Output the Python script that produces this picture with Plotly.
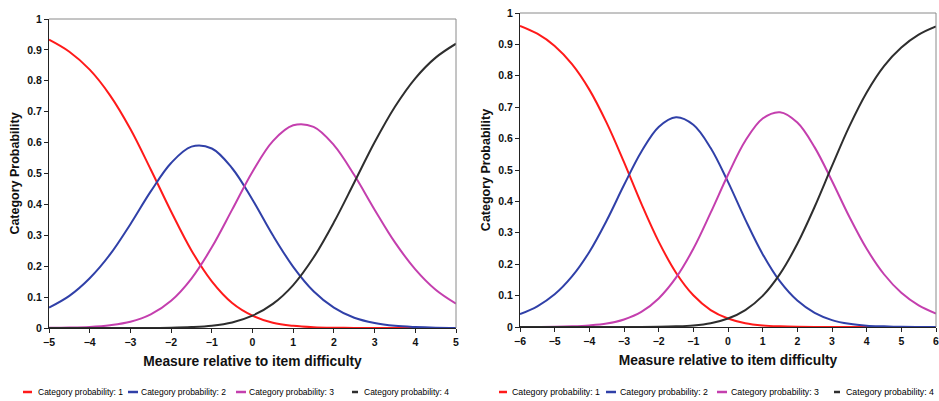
import plotly.graph_objects as go

# left panel: measure relative to item difficulty, -5 .. 5
x_left = [-5, -4.5, -4, -3.5, -3, -2.5, -2, -1.5, -1, -0.5, 0,
          0.5, 1, 1.5, 2, 2.5, 3, 3.5, 4, 4.5, 5]
left_cat1 = [0.933, 0.894, 0.836, 0.753, 0.644, 0.513, 0.377, 0.251, 0.151, 0.081, 0.040,
             0.017, 0.007, 0.0025, 0.0008, 0.0003, 0.0001, 0, 0, 0, 0]
left_cat2 = [0.066, 0.104, 0.161, 0.238, 0.336, 0.442, 0.534, 0.587, 0.581, 0.517, 0.415,
             0.300, 0.198, 0.119, 0.066, 0.033, 0.016, 0.007, 0.003, 0.001, 0.0004]
left_cat3 = [0.0005, 0.0014, 0.0036, 0.009, 0.020, 0.044, 0.088, 0.160, 0.261, 0.383, 0.506,
             0.605, 0.656, 0.651, 0.592, 0.495, 0.383, 0.277, 0.190, 0.124, 0.079]
left_cat4 = [0, 0, 0, 0, 0.0001, 0.0003, 0.0009, 0.003, 0.0075, 0.018, 0.040,
             0.078, 0.139, 0.228, 0.342, 0.471, 0.601, 0.716, 0.808, 0.875, 0.920]

# right panel: -6 .. 6
x_right = [-6, -5.5, -5, -4.5, -4, -3.5, -3, -2.5, -2, -1.5, -1, -0.5, 0,
           0.5, 1, 1.5, 2, 2.5, 3, 3.5, 4, 4.5, 5, 5.5, 6]
right_cat1 = [0.959, 0.934, 0.895, 0.837, 0.756, 0.650, 0.525, 0.393, 0.272, 0.173, 0.101, 0.054, 0.027,
              0.012, 0.005, 0.002, 0.0007, 0.0002, 0.0001, 0, 0, 0, 0, 0, 0]
right_cat2 = [0.041, 0.066, 0.104, 0.161, 0.239, 0.339, 0.452, 0.558, 0.637, 0.668, 0.644, 0.570, 0.462,
              0.342, 0.232, 0.145, 0.084, 0.045, 0.022, 0.010, 0.004, 0.002, 0.0007, 0.0003, 0.0001]
right_cat3 = [0.0001, 0.0003, 0.0007, 0.002, 0.005, 0.011, 0.024, 0.048, 0.091, 0.157, 0.249, 0.364, 0.485,
              0.593, 0.664, 0.684, 0.651, 0.572, 0.465, 0.351, 0.249, 0.168, 0.109, 0.069, 0.043]
right_cat4 = [0, 0, 0, 0, 0, 0, 0.0001, 0.0002, 0.0007, 0.002, 0.005, 0.012, 0.027,
              0.054, 0.099, 0.169, 0.265, 0.383, 0.513, 0.639, 0.747, 0.831, 0.890, 0.931, 0.957]

names = ["Category probability: 1", "Category probability: 2",
         "Category probability: 3", "Category probability: 4"]
colors = ["#ff1a1a", "#3040a8", "#c43fae", "#2e2e2e"]

W, H = 939, 401
fig = go.Figure()

panels = [
    ("x", "y", x_left, [left_cat1, left_cat2, left_cat3, left_cat4]),
    ("x2", "y2", x_right, [right_cat1, right_cat2, right_cat3, right_cat4]),
]
for xa, ya, xs, series in panels:
    for name, col, ys in zip(names, colors, series):
        fig.add_trace(go.Scatter(
            x=xs, y=ys, mode="lines", name=name, xaxis=xa, yaxis=ya,
            line=dict(color=col, width=2, shape="spline", smoothing=1.0),
            showlegend=False,
        ))

tickfont = dict(family="Liberation Sans", size=10.5, color="#111")
titlefont_x = dict(family="Liberation Sans", size=13.8, color="#111")
titlefont_y = dict(family="Liberation Sans", size=12.5, color="#111")

def xaxis_cfg(lo, hi, dom, anchor):
    return dict(
        domain=dom, anchor=anchor, range=[lo, hi], dtick=1, tick0=lo,
        showgrid=False, zeroline=False, showline=True, linecolor="#222", linewidth=1,
        ticks="outside", ticklen=4, tickcolor="#222", tickfont=tickfont,
        tickprefix="<b>", ticksuffix="</b>", ticklabeloverflow="allow",
        title=dict(text="<b>Measure relative to item difficulty</b>", font=titlefont_x, standoff=9),
        automargin=False,
    )

def yaxis_cfg(dom, anchor):
    return dict(
        domain=dom, anchor=anchor, range=[0, 1], dtick=0.1, tick0=0,
        showgrid=False, zeroline=False, showline=True, linecolor="#222", linewidth=1,
        ticks="outside", ticklen=4, tickcolor="#222", tickfont=tickfont,
        tickprefix="<b>", ticksuffix="</b>",
        title=dict(text="<b>Category Probability</b>", font=titlefont_y, standoff=4),
        automargin=False,
    )

fig.update_layout(
    width=W, height=H,
    margin=dict(l=0, r=0, t=0, b=0),
    paper_bgcolor="white", plot_bgcolor="white",
    font=dict(family="Liberation Sans", color="#111"),
    xaxis=xaxis_cfg(-5, 5, [49 / W, 456 / W], "y"),
    yaxis=yaxis_cfg([(H - 328) / H, (H - 19) / H], "x"),
    xaxis2=xaxis_cfg(-6, 6, [520 / W, 936 / W], "y2"),
    yaxis2=yaxis_cfg([(H - 327) / H, (H - 13) / H], "x2"),
)

# light top / right frame of each plot area
for xa, ya in [("x", "y"), ("x2", "y2")]:
    fig.add_shape(type="line", xref=f"{xa} domain", yref=f"{ya} domain",
                  x0=0, x1=1, y0=1, y1=1, line=dict(color="#8a8a8a", width=1))
    fig.add_shape(type="line", xref=f"{xa} domain", yref=f"{ya} domain",
                  x0=1, x1=1, y0=0, y1=1, line=dict(color="#8a8a8a", width=1))

# hand-placed legends under each panel (pixel positions)
legend_rows = [
    (392, 8.5, [(23, 32, 37), (128, 138, 140), (236, 246, 248), (352, 358, 363)]),
    (392, 8.8, [(499, 507, 511), (606, 616, 619), (717, 727, 730), (834, 840, 845)]),
]
for ypx, fsize, items in legend_rows:
    yp = (H - ypx) / H
    for (l0, l1, tx), name, col in zip(items, names, colors):
        fig.add_shape(type="line", xref="paper", yref="paper",
                      x0=l0 / W, x1=l1 / W, y0=yp, y1=yp,
                      line=dict(color=col, width=2.5))
        fig.add_annotation(x=tx / W, y=yp, xref="paper", yref="paper",
                           text=name, showarrow=False, xanchor="left", yanchor="middle",
                           borderpad=0,
                           font=dict(family="Liberation Sans", size=fsize, color="#000"))

# drop the page's default body margin so the figure sits at the window corner
fig.write_html("out.html", config={"displayModeBar": False},
               post_script="document.body.style.margin='0px';")
